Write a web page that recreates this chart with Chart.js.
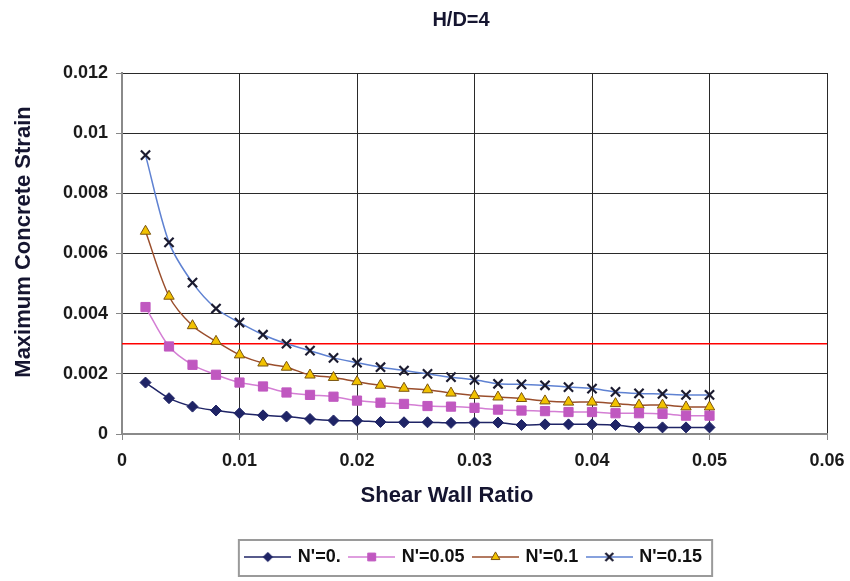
<!DOCTYPE html>
<html>
<head>
<meta charset="utf-8">
<script src="https://cdn.jsdelivr.net/npm/chart.js@4.4.1/dist/chart.umd.min.js"></script>
<style>
  html, body { margin: 0; padding: 0; background: #ffffff; }
  #wrap { width: 850px; height: 581px; position: relative; }
</style>
</head>
<body>
<div id="wrap"><canvas id="c" width="850" height="581"></canvas></div>
<script>
// ---------------- data ----------------
const chartTitle = 'H/D=4';
const xAxisTitle = 'Shear Wall Ratio';
const yAxisTitle = 'Maximum Concrete Strain';

const shearWallRatio = [0.002, 0.004, 0.006, 0.008, 0.010, 0.012, 0.014, 0.016, 0.018, 0.020,
                        0.022, 0.024, 0.026, 0.028, 0.030, 0.032, 0.034, 0.036, 0.038, 0.040,
                        0.042, 0.044, 0.046, 0.048, 0.050];

const seriesNames = ["N'=0.", "N'=0.05", "N'=0.1", "N'=0.15"];

const strainN000 = [0.00171, 0.00119, 0.00091, 0.00078, 0.00069, 0.00062, 0.00058, 0.00050, 0.00045, 0.00044,
                    0.00040, 0.00039, 0.00039, 0.00037, 0.00038, 0.00038, 0.00030, 0.00032, 0.00032, 0.00032,
                    0.00030, 0.00022, 0.00022, 0.00022, 0.00022];
const strainN005 = [0.00422, 0.00291, 0.00230, 0.00197, 0.00171, 0.00158, 0.00138, 0.00130, 0.00124, 0.00111,
                    0.00104, 0.00100, 0.00093, 0.00091, 0.00087, 0.00081, 0.00078, 0.00076, 0.00073, 0.00073,
                    0.00069, 0.00069, 0.00067, 0.00061, 0.00061];
const strainN010 = [0.00674, 0.00458, 0.00360, 0.00308, 0.00263, 0.00236, 0.00222, 0.00196, 0.00188, 0.00174,
                    0.00162, 0.00152, 0.00147, 0.00136, 0.00128, 0.00123, 0.00118, 0.00110, 0.00106, 0.00106,
                    0.00101, 0.00096, 0.00096, 0.00090, 0.00090];
const strainN015 = [0.00927, 0.00637, 0.00503, 0.00417, 0.00370, 0.00330, 0.00300, 0.00277, 0.00253, 0.00237,
                    0.00222, 0.00211, 0.00200, 0.00189, 0.00180, 0.00167, 0.00165, 0.00162, 0.00156, 0.00151,
                    0.00140, 0.00135, 0.00133, 0.00130, 0.00130];

const limitStrain = 0.003;
const limitXRange = [0, 0.06];

const xTickLabels = ['0', '0.01', '0.02', '0.03', '0.04', '0.05', '0.06'];
const yTickLabels = ['0', '0.002', '0.004', '0.006', '0.008', '0.01', '0.012'];

// ---------------- styles ----------------
const FONT = "'Liberation Sans', Arial, Helvetica, sans-serif";
const seriesStyles = [
  { line: '#1f2466', fill: '#1f2466', border: '#1f2466', shape: 'rectRot', r: 5.5, bw: 1 },
  { line: '#d47ed4', fill: '#c058c0', border: '#c058c0', shape: 'rect', r: 6.5, bw: 1 },
  { line: '#9a4e2c', fill: '#f2c200', border: '#7a5410', shape: 'triangle', r: 6, bw: 1 },
  { line: '#5f82d2', fill: 'rgba(0,0,0,0)', border: '#1b1b30', shape: 'crossRot', r: 6.5, bw: 2.2 }
];
const seriesValues = [strainN000, strainN005, strainN010, strainN015];

function toPoints(xs, ys) { return xs.map((x, i) => ({ x: x, y: ys[i] })); }

const datasets = seriesValues.map((vals, i) => ({
  label: seriesNames[i],
  data: toPoints(shearWallRatio, vals),
  borderColor: seriesStyles[i].line,
  backgroundColor: seriesStyles[i].fill,
  borderWidth: 1.5,
  tension: 0.3,
  pointStyle: seriesStyles[i].shape,
  pointRadius: seriesStyles[i].r,
  pointBackgroundColor: seriesStyles[i].fill,
  pointBorderColor: seriesStyles[i].border,
  pointBorderWidth: seriesStyles[i].bw
}));
datasets.push({
  label: 'limit',
  data: [{ x: limitXRange[0], y: limitStrain }, { x: limitXRange[1], y: limitStrain }],
  borderColor: '#ff0000',
  borderWidth: 1.5,
  pointRadius: 0,
  tension: 0
});

// legend icons: line with marker in middle
function makeIcon(st) {
  const c = document.createElement('canvas');
  c.width = 47; c.height = 16;
  const g = c.getContext('2d');
  g.strokeStyle = st.line; g.lineWidth = 1.5;
  g.beginPath(); g.moveTo(0, 8); g.lineTo(47, 8); g.stroke();
  g.fillStyle = st.fill; g.strokeStyle = st.border; g.lineWidth = st.bw;
  Chart.helpers.drawPoint(g, { pointStyle: st.shape, radius: st.r * 0.85, borderWidth: st.bw }, 23.5, 8);
  return c;
}

const textPlugin = {
  id: 'texts',
  afterDraw(chart) {
    const ctx = chart.ctx;
    ctx.save();
    ctx.fillStyle = '#151530';
    ctx.textAlign = 'center';
    ctx.textBaseline = 'middle';
    ctx.font = 'bold 20px ' + FONT;
    ctx.fillText(chartTitle, 461, 20);
    ctx.font = 'bold 22px ' + FONT;
    ctx.fillText(xAxisTitle, 447, 496);
    ctx.translate(24, 242);
    ctx.rotate(-Math.PI / 2);
    ctx.fillText(yAxisTitle, 0, 0);
    ctx.restore();
    // legend frame
    const lg = chart.legend;
    if (lg && lg.legendHitBoxes && lg.legendHitBoxes.length) {
      const hb = lg.legendHitBoxes;
      const l = hb[0].left - 8;
      const r = hb[hb.length - 1].left + hb[hb.length - 1].width + 10;
      ctx.save();
      ctx.strokeStyle = '#9a9a9a';
      ctx.lineWidth = 2;
      ctx.strokeRect(l, 540, r - l, 36);
      ctx.restore();
    }
  }
};

let icons = null;
const chart = new Chart(document.getElementById('c'), {
  type: 'line',
  data: { datasets: datasets },
  options: {
    responsive: false,
    animation: false,
    layout: { padding: { top: 73, right: 23, bottom: 5, left: 0 } },
    plugins: {
      title: { display: false },
      tooltip: { enabled: false },
      legend: {
        display: true,
        position: 'bottom',
        fullSize: false,
        labels: {
          usePointStyle: true,
          pointStyleWidth: 42,
          padding: 10,
          color: '#111',
          font: { family: FONT, size: 18, weight: 'bold' },
          filter: (item) => item.datasetIndex < 4,
          sort: (a, b) => a.datasetIndex - b.datasetIndex,
          generateLabels: (ch) => {
            if (!icons) icons = seriesStyles.map(makeIcon);
            const items = Chart.defaults.plugins.legend.labels.generateLabels(ch);
            return items.map((it) => {
              if (it.datasetIndex < 4) { it.pointStyle = icons[it.datasetIndex]; }
              return it;
            });
          }
        }
      }
    },
    scales: {
      x: {
        type: 'linear',
        min: 0, max: 0.06,
        afterFit: (s) => { s.height = 104; s.paddingRight = 0; s.paddingLeft = 0; },
        ticks: {
          stepSize: 0.01,
          color: '#1a1a1a',
          padding: 10,
          font: { family: FONT, size: 18, weight: 'bold' },
          callback: (v, i) => xTickLabels[i]
        },
        grid: { color: '#2a2a2a', lineWidth: 1, tickLength: 6, tickColor: '#888' },
        border: { display: true, color: '#8a8a8a', width: 2 }
      },
      y: {
        type: 'linear',
        min: 0, max: 0.012,
        afterFit: (s) => { s.width = 122; },
        ticks: {
          stepSize: 0.002,
          color: '#1a1a1a',
          padding: 8,
          font: { family: FONT, size: 18, weight: 'bold' },
          callback: (v, i) => yTickLabels[i]
        },
        grid: { color: '#2a2a2a', lineWidth: 1, tickLength: 6, tickColor: '#888' },
        border: { display: true, color: '#8a8a8a', width: 2 }
      }
    }
  },
  plugins: [textPlugin]
});
</script>
</body>
</html>
